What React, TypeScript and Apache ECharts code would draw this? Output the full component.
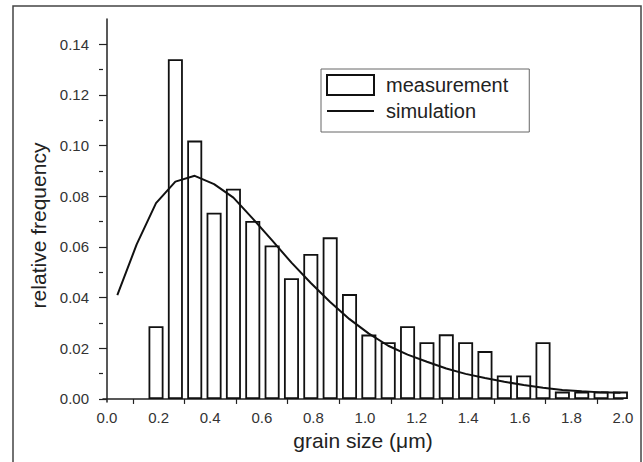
import React, { useEffect, useRef } from "react";
import * as echarts from "echarts";

const barX = [0.19, 0.265, 0.34, 0.415, 0.49, 0.565, 0.64, 0.715, 0.79, 0.865, 0.94, 1.015, 1.09, 1.165, 1.24, 1.315, 1.39, 1.465, 1.54, 1.615, 1.69, 1.765, 1.84, 1.915, 1.99];
const measurement = [0.0287, 0.1341, 0.102, 0.0735, 0.083, 0.0703, 0.0606, 0.0477, 0.0572, 0.0638, 0.0414, 0.0254, 0.0224, 0.0287, 0.0224, 0.0255, 0.0224, 0.0189, 0.0093, 0.0093, 0.0224, 0.0029, 0.0029, 0.0029, 0.0029];
const simX = [0.04, 0.115, 0.19, 0.265, 0.34, 0.415, 0.49, 0.565, 0.64, 0.715, 0.79, 0.865, 0.94, 1.015, 1.09, 1.165, 1.24, 1.315, 1.39, 1.465, 1.54, 1.615, 1.69, 1.765, 1.84, 1.915, 1.99];
const simulation = [0.041, 0.061, 0.0773, 0.0858, 0.0881, 0.0848, 0.0795, 0.0712, 0.0626, 0.0538, 0.0458, 0.0383, 0.0315, 0.0258, 0.021, 0.0175, 0.0147, 0.012, 0.0099, 0.0083, 0.0068, 0.0055, 0.0044, 0.0035, 0.003, 0.0026, 0.0025];
const xLabels = [0, 0.2, 0.4, 0.6, 0.8, 1.0, 1.2, 1.4, 1.6, 1.8, 2.0];
const xTicks = [0.1, 0.3, 0.5, 0.7, 0.9, 1.1, 1.3, 1.5, 1.7, 1.9];
const yLabels = [0, 0.02, 0.04, 0.06, 0.08, 0.1, 0.12, 0.14];
const yMinorTicks = [0.01, 0.03, 0.05, 0.07, 0.09, 0.11, 0.13];

const FONT = "'Liberation Sans', Arial, sans-serif";

export default function App() {
  const ref = useRef<HTMLDivElement>(null);
  useEffect(() => {
    if (!ref.current) return;
    const chart = echarts.init(ref.current, undefined, { renderer: "svg" });
    chart.setOption({
      animation: false,
      backgroundColor: "#ffffff",
      textStyle: { fontFamily: FONT },
      graphic: [
        {
          type: "rect",
          shape: { x: 13, y: 6, width: 628, height: 480 },
          style: { fill: "none", stroke: "#444", lineWidth: 1.5 },
          silent: true,
        },
      ],
      grid: { left: 103, right: 20, top: 19, bottom: 60 },
      legend: {
        left: 321,
        top: 69,
        orient: "vertical",
        padding: [5, 21, 11, 5],
        itemGap: 5,
        itemWidth: 47,
        itemHeight: 20,
        borderColor: "#666",
        borderWidth: 1,
        textStyle: { fontSize: 20, color: "#222", fontFamily: FONT, lineHeight: 20, padding: [0, 0, 0, 7] },
        data: [
          { name: "measurement", icon: "rect", itemStyle: { color: "#ffffff", borderColor: "#111", borderWidth: 2 } },
          { name: "simulation", itemStyle: { opacity: 0 }, lineStyle: { color: "#111", width: 2 } },
        ],
      },
      xAxis: {
        type: "value",
        min: -0.0155,
        max: 2.0,
        name: "grain size (μm)",
        nameLocation: "middle",
        nameGap: 27,
        nameTextStyle: { fontSize: 21, color: "#222", fontFamily: FONT },
        axisLine: { show: true, lineStyle: { color: "#222", width: 1.5 } },
        axisTick: { show: true, length: 5, customValues: xTicks, lineStyle: { color: "#222", width: 1.2 } },
        axisLabel: {
          customValues: xLabels,
          fontSize: 15,
          color: "#333",
          margin: 8,
          formatter: (v: number) => v.toFixed(1),
        },
        splitLine: { show: false },
      },
      yAxis: [
        {
          type: "value",
          min: -0.0012,
          max: 0.15,
          name: "relative frequency",
          nameLocation: "middle",
          nameGap: 52,
          nameTextStyle: { fontSize: 21, color: "#222", fontFamily: FONT, padding: [0, 30, 0, 0] },
          axisLine: { show: true, lineStyle: { color: "#222", width: 1.5 } },
          axisTick: { show: true, length: 8, customValues: yLabels, lineStyle: { color: "#222", width: 1.2 } },
          axisLabel: {
            customValues: yLabels,
            fontSize: 15,
            color: "#333",
            margin: 14,
            formatter: (v: number) => v.toFixed(2),
          },
          splitLine: { show: false },
        },
        {
          type: "value",
          min: -0.0012,
          max: 0.15,
          position: "left",
          offset: 0,
          axisLine: { show: false },
          axisTick: { show: true, length: 4, customValues: yMinorTicks, lineStyle: { color: "#222", width: 1.2 } },
          axisLabel: { show: false },
          splitLine: { show: false },
        },
      ],
      series: [
        {
          name: "measurement",
          type: "bar",
          barWidth: 15,
          clip: true,
          itemStyle: { color: "#ffffff", borderColor: "#111", borderWidth: 1.8 },
          data: barX.map((x, i) => [x, measurement[i]]),
          z: 2,
        },
        {
          name: "simulation",
          type: "line",
          symbol: "none",
          lineStyle: { color: "#111", width: 2 },
          itemStyle: { color: "#111" },
          data: simX.map((x, i) => [x, simulation[i]]),
          z: 3,
        },
      ],
    });
    return () => chart.dispose();
  }, []);
  return <div ref={ref} style={{ position: "absolute", left: 0, top: 0, width: 643, height: 462 }} />;
}
